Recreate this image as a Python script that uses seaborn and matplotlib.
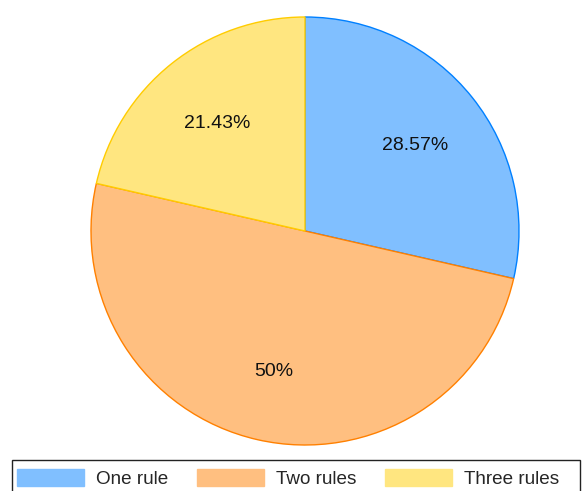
import matplotlib
matplotlib.use("Agg")
import matplotlib.pyplot as plt
import matplotlib.transforms as mtransforms
import seaborn as sns
from matplotlib.patches import Patch, Rectangle

labels = ["One rule", "Two rules", "Three rules"]
counts = [4, 7, 3]
edge_colors = ["#0080ff", "#ff8000", "#ffcc00"]
fill_colors = ["#80bfff", "#ffbf80", "#ffe680"]

sns.set_theme(style="white")
plt.rcParams["font.family"] = ["Liberation Sans", "DejaVu Sans"]

W, H = 587, 491
fig = plt.figure(figsize=(W / 100, H / 100), dpi=100)

cx, cy, r = 305, 231, 214
ax = fig.add_axes([(cx - r) / W, (H - (cy + r)) / H, 2 * r / W, 2 * r / H])


def fmt(p):
    s = f"{p:.2f}".rstrip("0").rstrip(".")
    return s + "%"


wedges, texts, autotexts = ax.pie(
    counts,
    colors=fill_colors,
    startangle=90,
    counterclock=False,
    autopct=fmt,
    pctdistance=0.66,
    wedgeprops=dict(linewidth=1.0),
    textprops=dict(fontsize=14, color="#111111"),
)
for w, ec in zip(wedges, edge_colors):
    w.set_edgecolor(ec)
shift = mtransforms.ScaledTranslation(0, -3 / 100, fig.dpi_scale_trans)
for t in autotexts:
    t.set_transform(t.get_transform() + shift)
ax.set_xlim(-1, 1)
ax.set_ylim(-1, 1)
ax.set_aspect("auto")
ax.axis("off")

# legend frame
fig.patches.append(Rectangle((12 / W, -0.05), (580 - 12) / W, (H - 460) / H + 0.05,
                             transform=fig.transFigure, facecolor="none",
                             edgecolor="#222222", linewidth=1.0))

handles = [Patch(facecolor=fc, edgecolor=fc) for fc in fill_colors]
fig.legend(handles, labels, loc="center left",
           bbox_to_anchor=(17 / W, 1 - 478.5 / H), ncol=3, frameon=False,
           borderpad=0, borderaxespad=0, handlelength=3.55, handleheight=0.97,
           handletextpad=0.63, columnspacing=1.53, fontsize=13.6)

fig.savefig("out.png", dpi=100)
